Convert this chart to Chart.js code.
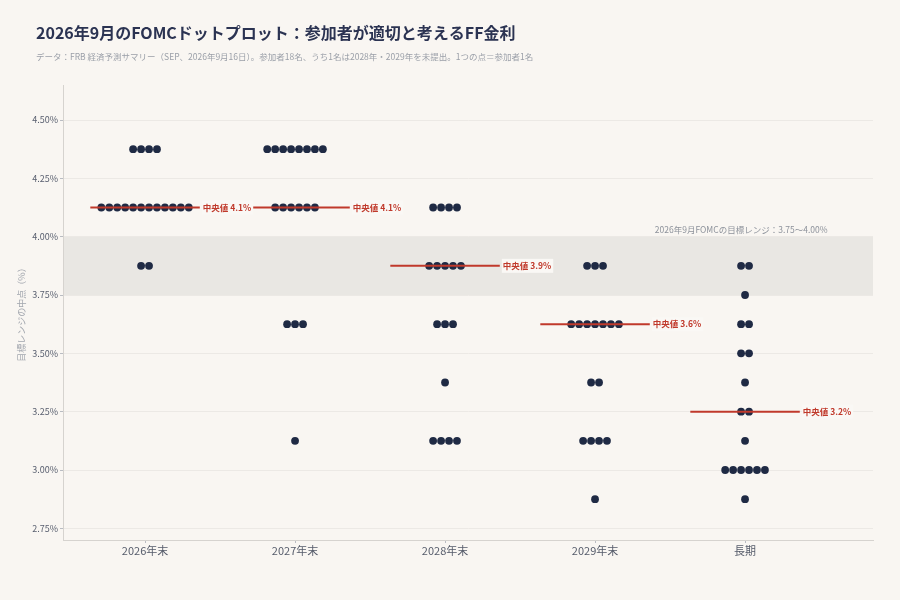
<!DOCTYPE html>
<html lang="ja">
<head>
<meta charset="UTF-8" />
<title>FOMCドットプロット</title>
<script src="https://cdn.jsdelivr.net/npm/chart.js"></script>
<style>
  html, body { margin: 0; padding: 0; background: #f9f6f2; }
  #wrap { width: 900px; height: 600px; position: relative; }
</style>
</head>
<body>
<div id="wrap"><canvas id="dotChart" width="900" height="600"></canvas></div>
<script>
// データ
const categories = ['2026年末', '2027年末', '2028年末', '2029年末', '長期'];
const rates = [4.375, 4.125, 3.875, 3.75, 3.625, 3.5, 3.375, 3.25, 3.125, 3.0, 2.875];
const counts2026 = [4, 12, 2, 0, 0, 0, 0, 0, 0, 0, 0];
const counts2027 = [8, 6, 0, 0, 3, 0, 0, 0, 1, 0, 0];
const counts2028 = [0, 4, 5, 0, 3, 0, 1, 0, 4, 0, 0];
const counts2029 = [0, 0, 3, 0, 7, 0, 2, 0, 4, 0, 1];
const countsLonger = [0, 0, 2, 1, 2, 2, 1, 2, 1, 6, 1];
const medians = [4.125, 4.125, 3.875, 3.625, 3.25];
const medianLabels = ['中央値 4.1%', '中央値 4.1%', '中央値 3.9%', '中央値 3.6%', '中央値 3.2%'];
const yTicks = [2.75, 3.0, 3.25, 3.5, 3.75, 4.0, 4.25, 4.5];
const bandLow = 3.75, bandHigh = 4.0;
const bandLabel = '2026年9月FOMCの目標レンジ：3.75〜4.00%';

const allCounts = [counts2026, counts2027, counts2028, counts2029, countsLonger];

const BG = '#f9f6f2';
const DOT = '#1f2a44';
const RED = '#c0392b';
const FONT = '"Noto Sans CJK JP", "Noto Sans", sans-serif';
const DOT_STEP = 0.053;   // 横に並べる点の間隔（x単位）
const MED_HALF = 0.365;   // 中央値線の半幅

// 点を横に並べる
const dotPoints = [];
allCounts.forEach((counts, i) => {
    counts.forEach((n, r) => {
        for (let k = 0; k < n; k++) {
            dotPoints.push({ x: i + (k - (n - 1) / 2) * DOT_STEP, y: rates[r] });
        }
    });
});

const medianSets = medians.map((m, i) => ({
    type: 'scatter',
    data: [{ x: i - MED_HALF, y: m }, { x: i + MED_HALF, y: m }],
    showLine: true,
    borderColor: RED,
    borderWidth: 2,
    pointRadius: 0,
    order: 0
}));

const decor = {
    id: 'decor',
    beforeDraw(chart) {
        const { ctx, chartArea: a, scales: { x, y } } = chart;
        ctx.save();
        ctx.fillStyle = BG;
        ctx.fillRect(0, 0, chart.width, chart.height);
        // 目標レンジの帯
        const yt = y.getPixelForValue(bandHigh), yb = y.getPixelForValue(bandLow);
        ctx.fillStyle = '#e9e7e3';
        ctx.fillRect(a.left, yt, a.right - a.left, yb - yt);
        // タイトル
        ctx.fillStyle = '#2b3352';
        ctx.font = 'bold 16px ' + FONT;
        ctx.textBaseline = 'alphabetic';
        ctx.fillText('2026年9月のFOMCドットプロット：参加者が適切と考えるFF金利', 36, 39);
        ctx.fillStyle = '#9a9fa8';
        ctx.font = '8.5px ' + FONT;
        ctx.fillText('データ：FRB 経済予測サマリー（SEP、2026年9月16日）。参加者18名、うち1名は2028年・2029年を未提出。1つの点＝参加者1名', 36, 60);
        // 帯のラベル
        ctx.fillStyle = '#8d929b';
        ctx.font = '8.5px ' + FONT;
        ctx.textAlign = 'right';
        ctx.textBaseline = 'bottom';
        ctx.fillText(bandLabel, x.getPixelForValue(4.55), yt - 3);
        ctx.restore();
    },
    afterDatasetsDraw(chart) {
        const { ctx, scales: { x, y } } = chart;
        ctx.save();
        ctx.font = 'bold 8.5px ' + FONT;
        ctx.textBaseline = 'middle';
        medians.forEach((m, i) => {
            const px = x.getPixelForValue(i + MED_HALF) + 3;
            const py = y.getPixelForValue(m);
            const w = ctx.measureText(medianLabels[i]).width;
            ctx.fillStyle = '#faf8f5';
            ctx.fillRect(px - 1, py - 7, w + 3, 14);
            ctx.fillStyle = RED;
            ctx.fillText(medianLabels[i], px, py);
        });
        ctx.restore();
    }
};

new Chart(document.getElementById('dotChart'), {
    type: 'scatter',
    data: {
        datasets: [
            ...medianSets,
            {
                data: dotPoints,
                backgroundColor: DOT,
                borderWidth: 0,
                pointRadius: 3.9,
                order: 1
            }
        ]
    },
    options: {
        responsive: false,
        animation: false,
        layout: { padding: { top: 85, right: 27, left: 0, bottom: 0 } },
        plugins: {
            legend: { display: false },
            tooltip: { enabled: false }
        },
        scales: {
            x: {
                type: 'linear',
                min: -0.547,
                max: 4.853,
                afterBuildTicks: s => { s.ticks = categories.map((_, i) => ({ value: i })); },
                afterFit: s => { s.height = 60; },
                grid: { drawOnChartArea: false, tickLength: 3, tickColor: '#b9bcc2' },
                border: { display: true, color: '#d6d3cf' },
                ticks: {
                    callback: v => categories[v],
                    color: '#555b6a',
                    font: { family: FONT, size: 11 },
                    padding: 1,
                    maxRotation: 0
                }
            },
            y: {
                min: 2.70,
                max: 4.65,
                afterBuildTicks: s => { s.ticks = yTicks.map(v => ({ value: v })); },
                afterFit: s => { s.width = 63; },
                grid: { color: '#ecE9e5', tickLength: 3, tickColor: '#b9bcc2' },
                border: { display: true, color: '#d6d3cf' },
                ticks: {
                    callback: v => v.toFixed(2) + '%',
                    color: '#5a6070',
                    font: { family: FONT, size: 9 },
                    padding: 2
                },
                title: {
                    display: true,
                    text: '目標レンジの中点（%）',
                    color: '#a2a6ae',
                    font: { family: FONT, size: 9 },
                    padding: { top: 16, bottom: 0 }
                }
            }
        }
    },
    plugins: [decor]
});
</script>
</body>
</html>
